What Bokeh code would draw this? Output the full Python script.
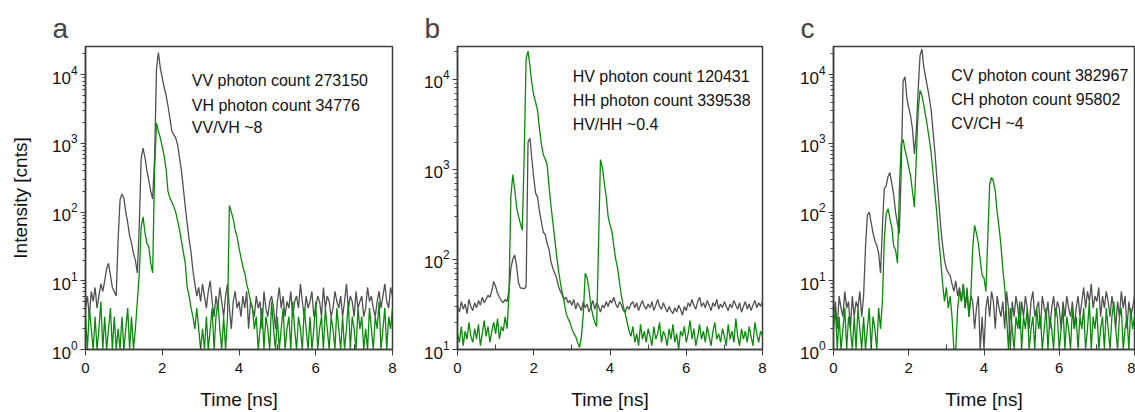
import numpy as np
from bokeh.plotting import figure
from bokeh.layouts import row
from bokeh.models import Range1d, FixedTicker, Label
from bokeh.embed import file_html
from bokeh.resources import INLINE

BIN_NS = 0.05
TIME_TICKS = [0, 2, 4, 6, 8]
TIME_MINOR = [1, 3, 5, 7]

# ---------------- panel a ----------------
vv_a = [
    4, 6, 3, 7, 5, 8, 4, 6, 9, 7,
    10, 15, 18, 12, 8, 7, 6, 40, 150, 183,
    160, 100, 70, 45, 35, 25, 20, 13, 60, 600,
    850, 620, 400, 290, 200, 155, 600, 12000, 21000, 12500,
    9000, 6500, 5000, 3500, 2300, 1500, 1340, 1200, 950, 620,
    400, 220, 120, 68, 40, 26, 14, 9, 6, 8,
    5, 9, 6, 4, 7, 10, 5, 3, 6, 4,
    8, 5, 3, 6, 9, 4, 2, 5, 7, 4,
    5, 3, 6, 4, 7, 2, 5, 4, 3, 6,
    4, 5, 2, 7, 4, 3, 5, 6, 4, 2,
    5, 8, 4, 6, 3, 5, 4, 7, 3, 5,
    6, 4, 9, 5, 3, 6, 4, 5, 7, 3,
    4, 6, 5, 3, 8, 4, 6, 5, 3, 4,
    7, 5, 4, 6, 3, 5, 9, 4, 6, 5,
    3, 7, 4, 5, 6, 3, 4, 8, 5, 6,
    4, 3, 5, 7, 4, 6, 9, 5, 4, 8, 6,
]
vh_a = [
    3, 1, 4, 2, 1, 3, 1, 2, 5, 1,
    3, 1, 2, 4, 1, 3, 1, 2, 1, 3,
    1, 2, 4, 1, 3, 1, 2, 5, 12, 60,
    85, 50, 35, 31, 18, 13, 400, 1970, 1500, 1200,
    900, 650, 420, 200, 160, 140, 120, 100, 75, 55,
    38, 26, 18, 8, 6, 4, 3, 2, 4, 2,
    1, 2, 1, 3, 1, 2, 4, 1, 3, 5,
    2, 1, 3, 1, 3, 125, 100, 80, 55, 44,
    30, 22, 16, 13, 9, 7, 5, 4, 2, 3,
    1, 2, 4, 1, 3, 2, 1, 5, 2, 1,
    3, 1, 2, 4, 1, 2, 3, 1, 5, 2,
    1, 3, 2, 1, 4, 2, 1, 3, 1, 2,
    5, 1, 2, 3, 1, 4, 2, 1, 3, 2,
    1, 4, 2, 1, 3, 1, 2, 5, 1, 3,
    2, 1, 4, 2, 3, 1, 2, 1, 4, 2,
    1, 3, 2, 5, 1, 2, 4, 1, 3, 2, 4,
]
text_a = ["VV photon count 273150", "VH photon count 34776", "VV/VH ~8"]

# ---------------- panel b ----------------
hv_b = [
    30, 26, 34, 28, 32, 25, 36, 30, 27, 33,
    29, 35, 31, 38, 33, 36, 40, 38, 45, 57,
    50, 42, 38, 35, 33, 36, 34, 45, 80, 100,
    112, 85, 55, 48, 48, 47, 50, 2000, 2200, 1300,
    800, 540, 490, 340, 260, 200, 190, 150, 130, 95,
    80, 70, 62, 50, 44, 40, 36, 38, 33, 35,
    31, 36, 28, 33, 30, 27, 34, 29, 32, 26,
    30, 35, 28, 33, 30, 26, 31, 29, 34, 30,
    35, 33, 38, 32, 29, 34, 31, 27, 26, 30,
    28, 32, 34, 29, 33, 27, 31, 35, 30, 28,
    32, 29, 34, 27, 31, 36, 30, 28, 33, 29,
    26, 30, 27, 25, 29, 26, 31, 28, 24, 30,
    27, 33, 30, 36, 31, 28, 34, 38, 30, 33,
    29, 35, 31, 27, 33, 30, 36, 28, 32, 29,
    34, 30, 27, 32, 29, 35, 31, 28, 33, 26,
    30, 34, 28, 32, 27, 31, 35, 29, 33, 30, 34,
]
hh_b = [
    15, 12, 18, 11, 16, 13, 20, 14, 12, 17,
    13, 19, 11, 15, 21, 14, 18, 12, 16, 20,
    15, 22, 13, 18, 16, 23, 17, 40, 500, 870,
    600, 380, 300, 250, 210, 1500, 17000, 20400, 14000, 9000,
    6600, 5500, 4500, 2800, 1900, 1450, 1300, 1120, 650, 400,
    260, 170, 110, 75, 55, 42, 33, 25, 22, 20,
    17, 15, 14, 12, 10.5, 14, 25, 70, 62, 46,
    30, 24, 20, 18, 150, 1280, 1050, 700, 500, 300,
    240, 205, 140, 100, 80, 55, 39, 30, 25, 20,
    16, 14, 18, 12, 15, 11, 19, 13, 16, 12,
    17, 14, 11, 18, 13, 15, 20, 12, 16, 14,
    11, 17, 13, 19, 12, 15, 10, 16, 14, 18,
    12, 15, 21, 13, 17, 11, 14, 19, 13, 16,
    12, 18, 14, 11, 16, 20, 13, 15, 12, 17,
    14, 11, 19, 13, 16, 12, 22, 14, 11, 17,
    13, 16, 12, 18, 14, 11, 20, 15, 12, 16, 14,
]
text_b = ["HV photon count 120431", "HH photon count 339538", "HV/HH ~0.4"]

# ---------------- panel c ----------------
cv_c = [
    3, 5, 2, 6, 4, 3, 7, 4, 5, 2,
    6, 3, 5, 4, 7, 3, 6, 30, 90, 100,
    70, 50, 38, 33, 25, 13, 60, 220, 240, 330,
    375, 260, 180, 100, 68, 49, 400, 8000, 9300, 4500,
    3300, 2500, 1600, 700, 1500, 6000, 19000, 23500, 13000, 9000,
    6500, 4500, 2900, 1400, 700, 300, 140, 60, 33, 20,
    15, 13, 12, 9, 7, 10, 6, 8, 5, 9,
    4, 7, 3, 6, 5, 2, 4, 6, 1, 3,
    1, 4, 6, 3, 7, 5, 2, 6, 4, 3,
    5, 2, 7, 4, 1, 5, 3, 6, 4, 2,
    5, 3, 6, 4, 2, 5, 7, 3, 4, 5,
    2, 6, 4, 3, 5, 2, 4, 6, 3, 5,
    4, 2, 5, 3, 6, 4, 3, 5, 2, 4,
    6, 3, 5, 8, 4, 7, 5, 9, 4, 6,
    5, 8, 3, 6, 4, 7, 5, 3, 6, 4,
    2, 5, 3, 7, 4, 6, 2, 5, 3, 4, 6,
]
ch_c = [
    2, 4, 1, 3, 1, 2, 4, 1, 3, 2,
    1, 3, 1, 4, 2, 1, 3, 1, 2, 4,
    1, 3, 2, 1, 4, 2, 5, 40, 95, 112,
    80, 60, 32, 28, 18, 200, 1000, 1140, 800, 620,
    450, 330, 200, 118, 600, 3000, 5900, 5000, 3600, 2500,
    1700, 1100, 690, 350, 180, 90, 40, 20, 9, 5,
    8, 4, 6, 3, 1, 1, 4, 7, 5, 9,
    4, 8, 3, 6, 30, 64, 49, 35, 20, 12,
    11, 7, 40, 250, 320, 280, 200, 100, 60, 33,
    15, 8, 3, 1, 4, 2, 1, 3, 2, 5,
    1, 3, 2, 4, 1, 2, 3, 1, 4, 2,
    3, 1, 2, 4, 1, 3, 2, 1, 4, 3,
    1, 2, 4, 1, 3, 2, 1, 4, 2, 3,
    1, 3, 2, 4, 1, 2, 5, 1, 3, 2,
    4, 1, 2, 3, 1, 4, 2, 1, 3, 5,
    2, 1, 3, 4, 1, 2, 3, 1, 4, 2, 3,
]
text_c = ["CV photon count 382967", "CH photon count 95802", "CV/CH ~4"]

GRAY = "#505050"
GREEN = "#0a8a0a"
FONT = "Liberation Sans"
FRAME = "#3c3c3c"


def decade_ticks(lo_exp, hi_val):
    major = [10 ** e for e in range(lo_exp, 5)]
    minor = []
    for e in range(lo_exp, 5):
        for m in range(2, 10):
            v = m * 10 ** e
            if v <= hi_val:
                minor.append(v)
    return major, minor


def make_panel(letter, gray, green, texts, y_lo_exp, y_top, width, left, right,
               text_x, text_ys, ylabel=None):
    p = figure(width=width, height=412, x_range=Range1d(0, 8),
               y_range=Range1d(10 ** y_lo_exp, y_top), y_axis_type="log",
               output_backend="svg", toolbar_location=None,
               min_border_left=left, min_border_right=right,
               min_border_top=46, min_border_bottom=60)
    p.title.text = letter
    p.title.text_font = FONT
    p.title.text_font_size = "28px"
    p.title.text_font_style = "normal"
    p.title.align = "left"
    p.title.offset = -33
    p.title.standoff = 5
    p.xgrid.visible = False
    p.ygrid.visible = False
    p.outline_line_color = FRAME
    p.outline_line_width = 1.5
    p.background_fill_color = "white"
    p.border_fill_color = "white"

    tg = np.arange(len(gray)) * BIN_NS
    tn = np.arange(len(green)) * BIN_NS
    p.line(tg, gray, line_color=GRAY, line_width=1.3)
    p.line(tn, green, line_color=GREEN, line_width=1.3)

    xa = p.xaxis[0]
    xa.ticker = FixedTicker(ticks=TIME_TICKS, minor_ticks=TIME_MINOR)
    xa.axis_label = "Time [ns]"
    xa.axis_label_text_font = FONT
    xa.axis_label_text_font_size = "19px"
    xa.axis_label_text_font_style = "normal"
    xa.axis_label_standoff = 13
    xa.major_label_text_font = FONT
    xa.major_label_text_font_size = "15px"
    xa.major_label_standoff = 7
    xa.major_tick_out = 6
    xa.major_tick_in = 0
    xa.minor_tick_in = 5
    xa.minor_tick_out = 0

    ya = p.yaxis[0]
    major, minor = decade_ticks(y_lo_exp, y_top)
    ya.ticker = FixedTicker(ticks=major, minor_ticks=minor)
    ya.major_label_text_font = FONT
    ya.major_label_text_font_size = "17px"
    ya.major_label_standoff = 3
    ya.major_tick_out = 5
    ya.major_tick_in = 0
    ya.minor_tick_out = 3
    ya.minor_tick_in = 0
    if ylabel:
        ya.axis_label = ylabel
        ya.axis_label_text_font = FONT
        ya.axis_label_text_font_size = "19px"
        ya.axis_label_text_font_style = "normal"
        ya.axis_label_standoff = 18

    for ax in (xa, ya):
        ax.axis_line_color = FRAME
        ax.axis_line_width = 1.5
        ax.major_tick_line_color = FRAME
        ax.minor_tick_line_color = FRAME
        ax.major_label_text_color = "#111111"
        ax.axis_label_text_color = "#111111"

    for txt, yv in zip(texts, text_ys):
        p.add_layout(Label(x=text_x, y=yv, text=txt, text_font=FONT,
                           text_font_size="16px", text_color="#111111",
                           text_baseline="alphabetic"))
    return p


pa = make_panel("a", vv_a, vh_a, text_a, 0, 25700, 420, 85, 28,
                2.77, [8090, 3615, 1690], ylabel="Intensity [cnts]")
pb = make_panel("b", hv_b, hh_b, text_b, 1, 23000, 376, 36, 34,
                3.02, [10620, 5800, 3160])
pc = make_panel("c", cv_c, ch_c, text_c, 0, 25700, 339, 36, 1,
                3.13, [9770, 4415, 1972])

layout = row(pa, pb, pc)
open("out.html", "w").write(file_html(layout, INLINE))
